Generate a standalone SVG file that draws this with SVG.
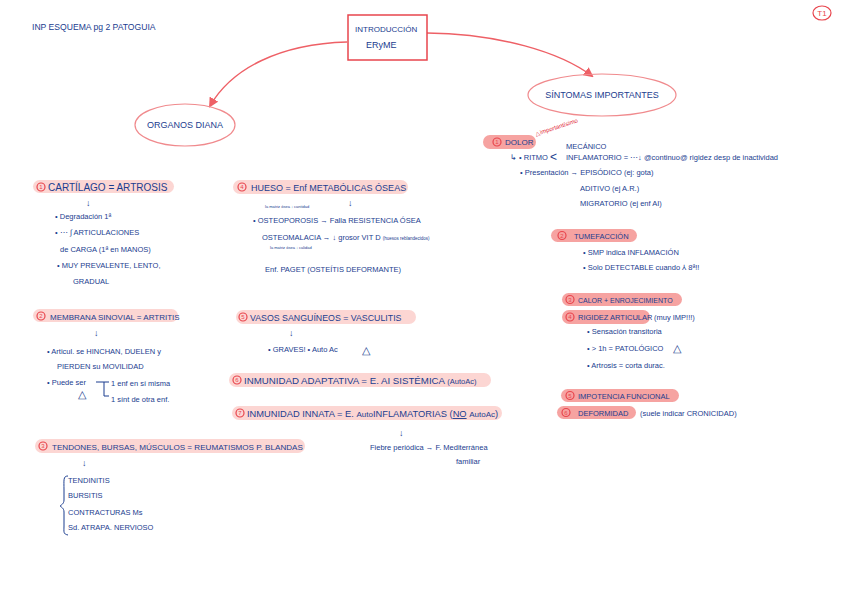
<svg xmlns="http://www.w3.org/2000/svg" width="848" height="599" viewBox="0 0 848 599">
<defs>
<style>
.t{font-family:"Liberation Sans",Arial,sans-serif;fill:#1b3d8f;font-size:9px}
.h{font-size:10px}
.s{font-size:7.5px}
.xs{font-size:4px}
.pl{fill:#fcd6d3}
.pd{fill:#f6a3a1}
.n{fill:none;stroke:#e8454d;stroke-width:1.2}
.nt{font-family:"Liberation Sans",Arial,sans-serif;font-size:6px;fill:#e8454d;text-anchor:middle}
.ln{fill:none;stroke:#ee6066;stroke-width:1.4}
.b{fill:none;stroke:#1b3d8f;stroke-width:1}
</style>
<marker id="ah" markerWidth="10" markerHeight="10" refX="8" refY="5" orient="auto" markerUnits="userSpaceOnUse">
<path d="M0,0 L10,5 L0,10 z" fill="#ee6066"/>
</marker>
</defs>
<rect width="848" height="599" fill="#ffffff"/>

<g id="header">
<text class="t" x="32" y="30" style="font-size:8.6px">INP ESQUEMA pg 2 PATOGUIA</text>
<ellipse cx="822" cy="13" rx="9" ry="7" fill="none" stroke="#e8454d" stroke-width="1.2"/>
<text x="822" y="16" class="nt" style="font-size:8px">T1</text>
</g>

<g id="connectors">
<path class="ln" d="M347,42 C280,44 232,68 210,106" marker-end="url(#ah)"/>
<path class="ln" d="M427,33 C500,34 560,52 592,76" marker-end="url(#ah)"/>
</g>

<g id="center">
<rect x="348" y="15" width="79" height="45" fill="#fff" stroke="#e8454d" stroke-width="1.5"/>
<text class="t" x="355" y="32" style="font-size:8px">INTRODUCCIÓN</text>
<text class="t" x="366" y="48">ERyME</text>
</g>

<g id="organos">
<ellipse cx="185" cy="125" rx="50" ry="21" fill="none" stroke="#f08a8d" stroke-width="1.2"/>
<text class="t" x="185" y="128" text-anchor="middle">ORGANOS DIANA</text>
</g>

<g id="sintomas">
<ellipse cx="602" cy="95" rx="74" ry="21" fill="none" stroke="#f08a8d" stroke-width="1.2"/>
<text class="t" x="602" y="98" text-anchor="middle">SÍNTOMAS IMPORTANTES</text>
</g>

<g id="cartilago">
<rect class="pl" x="33" y="180" width="141" height="13" rx="6.5"/>
<circle class="n" cx="41" cy="187" r="4"/><text class="nt" x="41" y="189">1</text>
<text class="t h" x="48" y="191">CARTÍLAGO = ARTROSIS</text>
<text class="t" x="86" y="206">↓</text>
<text class="t s" x="55" y="219">• Degradación 1ª</text>
<text class="t s" x="55" y="235">• ⋯ ∫ ARTICULACIONES</text>
<text class="t s" x="60" y="252">de CARGA (1ª en MANOS)</text>
<text class="t s" x="57" y="268">• MUY PREVALENTE, LENTO,</text>
<text class="t s" x="73" y="284">GRADUAL</text>
</g>

<g id="hueso">
<rect class="pl" x="233" y="180" width="175" height="14" rx="7"/>
<circle class="n" cx="242" cy="187" r="4"/><text class="nt" x="242" y="189">4</text>
<text class="t" x="251" y="191">HUESO = Enf METABÓLICAS ÓSEAS</text>
<text class="t xs" x="265" y="208">la matriz ósea ↓ cantidad</text>
<text class="t" x="348" y="206">↓</text>
<text class="t s" x="253" y="223">• OSTEOPOROSIS → Falla RESISTENCIA ÓSEA</text>
<text class="t s" x="262" y="240">OSTEOMALACIA → ↓ grosor VIT D <tspan font-size="4.5">(huesos reblandecidos)</tspan></text>
<text class="t xs" x="270" y="249">la matriz ósea ↓ calidad</text>
<text class="t s" x="265" y="272">Enf. PAGET (OSTEÍTIS DEFORMANTE)</text>
</g>

<g id="membrana">
<rect class="pl" x="33" y="309" width="145" height="13" rx="6.5"/>
<circle class="n" cx="41" cy="316" r="4"/><text class="nt" x="41" y="318">2</text>
<text class="t" x="50" y="320" style="font-size:8px">MEMBRANA SINOVIAL = ARTRITIS</text>
<text class="t" x="94" y="336">↓</text>
<text class="t s" x="47" y="354">• Articul. se HINCHAN, DUELEN y</text>
<text class="t s" x="57" y="369">PIERDEN su MOVILIDAD</text>
<text class="t s" x="47" y="385">• Puede ser</text>
<path class="b" d="M96,382 h8 v14 h5 M104,382 h5"/>
<text class="t s" x="111" y="386">1 enf en sí misma</text>
<text class="t s" x="111" y="402">1 sínt de otra enf.</text>
<text class="t" x="78" y="398" style="font-size:11px">△</text>
</g>

<g id="vasos">
<rect class="pl" x="236" y="310" width="180" height="14" rx="7"/>
<circle class="n" cx="243" cy="317" r="4"/><text class="nt" x="243" y="319">5</text>
<text class="t" x="250" y="321" style="font-size:8.8px">VASOS SANGUÍNEOS = VASCULITIS</text>
<text class="t" x="289" y="336">↓</text>
<text class="t s" x="268" y="352">• GRAVES!   • Auto Ac</text>
<text class="t" x="362" y="354" style="font-size:11px">△</text>
</g>

<g id="adaptativa">
<rect class="pl" x="229" y="373" width="262" height="14" rx="7"/>
<circle class="n" cx="237" cy="380" r="4"/><text class="nt" x="237" y="382">6</text>
<text class="t" x="244" y="384" style="font-size:9.7px">INMUNIDAD ADAPTATIVA = E. AI SISTÉMICA <tspan font-size="7.5">(AutoAc)</tspan></text>
</g>

<g id="innata">
<rect class="pl" x="232" y="406" width="270" height="14" rx="7"/>
<circle class="n" cx="240" cy="413" r="4"/><text class="nt" x="240" y="415">7</text>
<text class="t" x="247" y="417" style="font-size:9.3px">INMUNIDAD INNATA = E. <tspan font-size="8">Auto</tspan>INFLAMATORIAS (<tspan text-decoration="underline">NO</tspan> <tspan font-size="8">AutoAc</tspan>)</text>
<text class="t" x="399" y="436">↓</text>
<text class="t s" x="370" y="450">Fiebre periódica → F. Mediterránea</text>
<text class="t s" x="456" y="464">familiar</text>
</g>

<g id="tendones">
<rect class="pl" x="35" y="439" width="270" height="14" rx="7"/>
<circle class="n" cx="43" cy="446" r="4"/><text class="nt" x="43" y="448">3</text>
<text class="t" x="52" y="450" style="font-size:8.1px">TENDONES, BURSAS, MÚSCULOS = REUMATISMOS P. BLANDAS</text>
<text class="t" x="82" y="466">↓</text>
<path class="b" d="M68,476 C63,476 64,480 64,490 L64,500 C64,504 61,505 60,506 C61,507 64,508 64,512 L64,526 C64,532 63,534 68,535"/>
<text class="t s" x="68" y="483">TENDINITIS</text>
<text class="t s" x="68" y="498">BURSITIS</text>
<text class="t s" x="68" y="515">CONTRACTURAS Ms</text>
<text class="t s" x="68" y="530">Sd. ATRAPA. NERVIOSO</text>
</g>

<g id="dolor">
<rect class="pd" x="483" y="135" width="53" height="14" rx="7"/>
<circle class="n" cx="497" cy="142" r="4"/><text class="nt" x="497" y="144">1</text>
<text class="t" x="505" y="145" style="font-size:8px">DOLOR</text>
<text x="536" y="136" font-family="Liberation Sans,Arial,sans-serif" font-size="6" fill="#e02030" transform="rotate(-18 536 136)">△importantísimo</text>
<text class="t s" x="566" y="149">MECÁNICO</text>
<text class="t s" x="510" y="160">↳ • RITMO</text>
<text class="t" x="550" y="161" style="font-size:12px">&lt;</text>
<text class="t s" x="566" y="160">INFLAMATORIO = ⋯↓ @continuo@ rigidez desp de inactividad</text>
<text class="t s" x="520" y="175">• Presentación → EPISÓDICO (ej: gota)</text>
<text class="t s" x="580" y="191">ADITIVO (ej A.R.)</text>
<text class="t s" x="580" y="206">MIGRATORIO (ej enf AI)</text>
</g>

<g id="tumefaccion">
<rect class="pd" x="551" y="229" width="86" height="13" rx="6.5"/>
<circle class="n" cx="562" cy="235.5" r="4"/><text class="nt" x="562" y="237.5">2</text>
<text class="t s" x="574" y="239">TUMEFACCIÓN</text>
<text class="t s" x="583" y="255">• SMP indica INFLAMACIÓN</text>
<text class="t s" x="583" y="270">• Solo DETECTABLE cuando ⅄ 8ª!!</text>
</g>

<g id="calor">
<rect class="pd" x="562" y="293" width="120" height="13" rx="6.5"/>
<circle class="n" cx="570" cy="299.5" r="4"/><text class="nt" x="570" y="301.5">3</text>
<text class="t" x="578" y="303" style="font-size:7px">CALOR + ENROJECIMIENTO</text>
</g>

<g id="rigidez">
<rect class="pd" x="562" y="310" width="88" height="14" rx="7"/>
<circle class="n" cx="570" cy="317" r="4"/><text class="nt" x="570" y="319">4</text>
<text class="t" x="578" y="320" style="font-size:7.5px">RIGIDEZ ARTICULAR</text>
<text class="t s" x="654" y="320">(muy IMP!!!)</text>
<text class="t s" x="587" y="334">• Sensación transitoria</text>
<text class="t s" x="587" y="351">• &gt; 1h = PATOLÓGICO</text>
<text class="t" x="673" y="352" style="font-size:11px">△</text>
<text class="t s" x="587" y="368">• Artrosis = corta durac.</text>
</g>

<g id="impotencia">
<rect class="pd" x="561" y="389" width="118" height="13" rx="6.5"/>
<circle class="n" cx="570" cy="395.5" r="4"/><text class="nt" x="570" y="397.5">5</text>
<text class="t s" x="578" y="399">IMPOTENCIA FUNCIONAL</text>
</g>

<g id="deformidad">
<rect class="pd" x="557" y="406" width="79" height="13" rx="6.5"/>
<circle class="n" cx="566" cy="412.5" r="4"/><text class="nt" x="566" y="414.5">6</text>
<text class="t s" x="578" y="416">DEFORMIDAD</text>
<text class="t s" x="640" y="416">(suele indicar CRONICIDAD)</text>
</g>
</svg>
